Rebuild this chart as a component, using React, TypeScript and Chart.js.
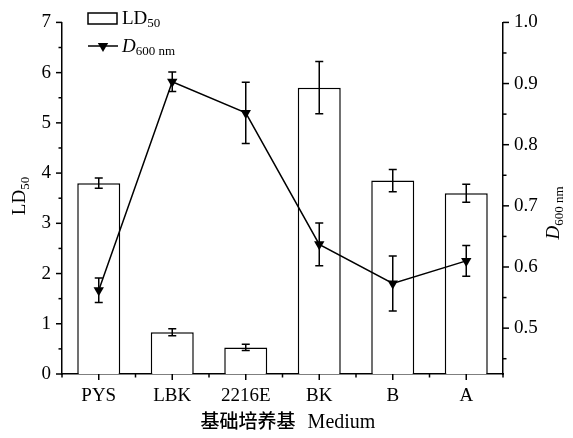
import React, { useEffect, useRef } from "react";
import { Chart, registerables } from "chart.js";

Chart.register(...registerables);

const categories = ["PYS", "LBK", "2216E", "BK", "B", "A"];
const ld50 = [3.8, 0.83, 0.53, 5.7, 3.85, 3.6];
const ld50Err = [0.1, 0.07, 0.06, 0.52, 0.22, 0.18];
const od600 = [0.562, 0.903, 0.852, 0.637, 0.573, 0.61];
const od600Err = [0.02, 0.016, 0.05, 0.035, 0.045, 0.025];
const leftTicks = [0, 1, 2, 3, 4, 5, 6, 7];
const rightTicks = [0.5, 0.6, 0.7, 0.8, 0.9, 1.0];

const SERIF = "'Liberation Serif', 'Times New Roman', serif";
const CJK = "'Noto Sans CJK SC', sans-serif";

type Part = { text: string; font: string; dy: number };

function drawParts(ctx: CanvasRenderingContext2D, parts: Part[], x: number, y: number, align: "left" | "center") {
  let total = 0;
  for (const p of parts) {
    ctx.font = p.font;
    total += ctx.measureText(p.text).width;
  }
  let cx = align === "center" ? x - total / 2 : x;
  ctx.textAlign = "left";
  ctx.textBaseline = "alphabetic";
  for (const p of parts) {
    ctx.font = p.font;
    ctx.fillText(p.text, cx, y + p.dy);
    cx += ctx.measureText(p.text).width;
  }
}

const errorPlugin = {
  id: "errorBars",
  afterDatasetDraw(chart: any, args: any) {
    if (args.index !== 1) return;
    const ctx = chart.ctx as CanvasRenderingContext2D;
    const xs = chart.scales.x;
    const y = chart.scales.y;
    const y1 = chart.scales.y1;
    ctx.save();
    ctx.strokeStyle = "#000";
    ctx.lineWidth = 1.5;
    const cap = 4;
    const draw = (px: number, top: number, bot: number) => {
      ctx.beginPath();
      ctx.moveTo(px, top);
      ctx.lineTo(px, bot);
      ctx.moveTo(px - cap, top);
      ctx.lineTo(px + cap, top);
      ctx.moveTo(px - cap, bot);
      ctx.lineTo(px + cap, bot);
      ctx.stroke();
    };
    categories.forEach((_, i) => {
      const px = xs.getPixelForValue(i);
      draw(px, y.getPixelForValue(ld50[i] + ld50Err[i]), y.getPixelForValue(ld50[i] - ld50Err[i]));
      draw(px, y1.getPixelForValue(od600[i] + od600Err[i]), y1.getPixelForValue(od600[i] - od600Err[i]));
    });
    ctx.restore();
  },
};

const decorPlugin = {
  id: "decor",
  afterDraw(chart: any) {
    const ctx = chart.ctx as CanvasRenderingContext2D;
    const xs = chart.scales.x;
    const y = chart.scales.y;
    const y1 = chart.scales.y1;
    const area = chart.chartArea;
    ctx.save();
    ctx.strokeStyle = "#000";
    ctx.fillStyle = "#000";
    ctx.lineWidth = 1.5;
    // left ticks
    for (let k = 0; k <= 14; k++) {
      const v = k * 0.5;
      const py = y.getPixelForValue(v);
      const len = k % 2 === 0 ? 6 : 3.5;
      ctx.beginPath();
      ctx.moveTo(area.left - len, py);
      ctx.lineTo(area.left, py);
      ctx.stroke();
    }
    // right ticks
    for (let k = 9; k <= 20; k++) {
      const v = k * 0.05;
      const py = y1.getPixelForValue(v);
      const len = k % 2 === 0 ? 6 : 3.5;
      ctx.beginPath();
      ctx.moveTo(area.right, py);
      ctx.lineTo(area.right + len, py);
      ctx.stroke();
    }
    // x ticks
    const step = xs.getPixelForValue(1) - xs.getPixelForValue(0);
    categories.forEach((_, i) => {
      const px = xs.getPixelForValue(i);
      ctx.beginPath();
      ctx.moveTo(px, area.bottom);
      ctx.lineTo(px, area.bottom + 6);
      ctx.stroke();
    });
    for (let i = 0; i <= categories.length; i++) {
      const px = xs.getPixelForValue(0) - step / 2 + i * step;
      ctx.beginPath();
      ctx.moveTo(px, area.bottom);
      ctx.lineTo(px, area.bottom + 3.5);
      ctx.stroke();
    }

    // left axis title
    ctx.save();
    ctx.translate(18, 196);
    ctx.rotate(-Math.PI / 2);
    drawParts(ctx, [
      { text: "LD", font: `19px ${SERIF}`, dy: 0 },
      { text: "50", font: `13px ${SERIF}`, dy: 4 },
    ], 0, 7, "center");
    ctx.restore();

    // right axis title
    ctx.save();
    ctx.translate(552, 213);
    ctx.rotate(-Math.PI / 2);
    drawParts(ctx, [
      { text: "D", font: `italic 19px ${SERIF}`, dy: 0 },
      { text: "600 nm", font: `13px ${SERIF}`, dy: 4 },
    ], 0, 7, "center");
    ctx.restore();

    // x title
    ctx.font = `500 19px ${CJK}`;
    const cjk = "基础培养基";
    const wC = ctx.measureText(cjk).width;
    ctx.font = `20px ${SERIF}`;
    const med = "Medium";
    const wM = ctx.measureText(med).width;
    const gap = 12;
    const startX = 288 - (wC + gap + wM) / 2;
    ctx.textBaseline = "alphabetic";
    ctx.textAlign = "left";
    ctx.font = `500 19px ${CJK}`;
    ctx.fillText(cjk, startX, 428);
    ctx.font = `20px ${SERIF}`;
    ctx.fillText(med, startX + wC + gap, 428);

    // legend
    ctx.lineWidth = 1.5;
    ctx.strokeRect(88, 13, 29, 11);
    drawParts(ctx, [
      { text: "LD", font: `19px ${SERIF}`, dy: 0 },
      { text: "50", font: `13px ${SERIF}`, dy: 3 },
    ], 122, 24, "left");
    ctx.beginPath();
    ctx.moveTo(88, 46);
    ctx.lineTo(118, 46);
    ctx.stroke();
    ctx.beginPath();
    const r = 6;
    ctx.moveTo(103 - r * 0.866, 46 - r * 0.5);
    ctx.lineTo(103 + r * 0.866, 46 - r * 0.5);
    ctx.lineTo(103, 46 + r);
    ctx.closePath();
    ctx.fill();
    drawParts(ctx, [
      { text: "D", font: `italic 19px ${SERIF}`, dy: 0 },
      { text: "600 nm", font: `13px ${SERIF}`, dy: 3 },
    ], 122, 52, "left");
    ctx.restore();
  },
};

export default function App() {
  const ref = useRef<HTMLCanvasElement | null>(null);
  useEffect(() => {
    if (!ref.current) return;
    const chart = new Chart(ref.current, {
      type: "bar",
      data: {
        labels: categories,
        datasets: [
          {
            type: "line",
            label: "D600 nm",
            data: od600,
            yAxisID: "y1",
            borderColor: "#000",
            borderWidth: 1.5,
            backgroundColor: "#000",
            pointStyle: "triangle",
            rotation: 180,
            pointRadius: 6,
            pointBackgroundColor: "#000",
            pointBorderColor: "#000",
            pointBorderWidth: 0,
            order: 0,
          } as any,
          {
            type: "bar",
            label: "LD50",
            data: ld50,
            yAxisID: "y",
            backgroundColor: "#fff",
            borderColor: "#000",
            borderWidth: 1.5,
            barPercentage: 0.585,
            categoryPercentage: 1,
            order: 1,
          } as any,
        ],
      },
      options: {
        animation: false,
        responsive: false,
        maintainAspectRatio: false,
        layout: { padding: { top: 18, left: 0, right: 0, bottom: 0 } },
        plugins: { legend: { display: false }, tooltip: { enabled: false } },
        scales: {
          x: {
            grid: { display: false, drawTicks: false },
            border: { display: true, color: "#000", width: 1.5 },
            ticks: { color: "#000", font: { family: SERIF, size: 19 }, padding: 11, maxRotation: 0 },
            afterFit: (s: any) => { s.height = 64; },
          },
          y: {
            position: "left",
            min: 0,
            max: 7,
            grid: { display: false, drawTicks: false },
            border: { display: true, color: "#000", width: 1.5 },
            ticks: { color: "#000", font: { family: SERIF, size: 19 }, padding: 11, stepSize: 1 },
            afterBuildTicks: (s: any) => { s.ticks = leftTicks.map((v) => ({ value: v })); },
            afterFit: (s: any) => { s.width = 62; },
          },
          y1: {
            position: "right",
            min: 0.425,
            max: 1.0,
            grid: { display: false, drawTicks: false },
            border: { display: true, color: "#000", width: 1.5 },
            ticks: {
              color: "#000",
              font: { family: SERIF, size: 19 },
              padding: 11,
              callback: (v: any) => Number(v).toFixed(1),
            },
            afterBuildTicks: (s: any) => { s.ticks = rightTicks.map((v) => ({ value: v })); },
            afterFit: (s: any) => { s.width = 70; },
          },
        },
      } as any,
      plugins: [errorPlugin, decorPlugin],
    });
    return () => chart.destroy();
  }, []);
  return (
    <div style={{ position: "fixed", left: 0, top: 0, width: 573, height: 438, background: "#fff" }}>
      <canvas ref={ref} width={573} height={438} />
    </div>
  );
}
